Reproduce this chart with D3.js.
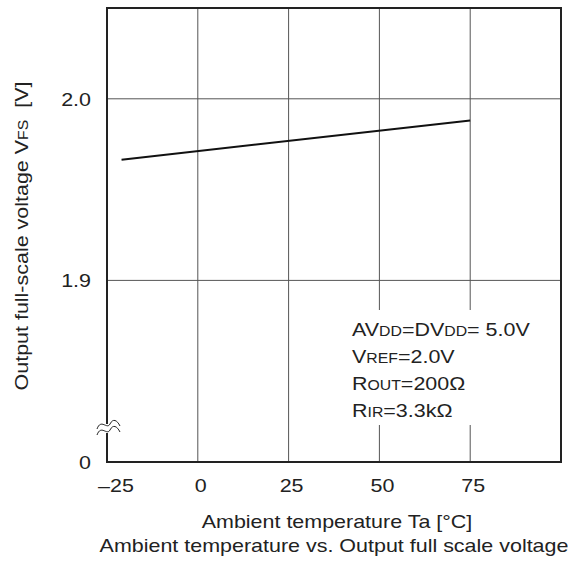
<!DOCTYPE html>
<html><head><meta charset="utf-8">
<script src="https://cdn.jsdelivr.net/npm/d3@7"></script>
<style>body{margin:0;background:#fff}text{font-family:"Liberation Sans",Arial,sans-serif;fill:#222}</style>
</head><body><svg id="c" width="568" height="569"></svg>
<script>
const xTicks = [-25, 0, 25, 50, 75];
const xTickLabels = ["–25", "0", "25", "50", "75"];
const yTicks = [1.8, 1.9, 2.0];
const yTickLabels = ["0", "1.9", "2.0"];
const temps = [-21, 75];
const volts = [1.9665, 1.988];

const svg = d3.select("#c");
const L = 107, R = 561, T = 8, B = 462;
const FS = 19, SX = 1.13;
const x = d3.scaleLinear().domain([-25, 100]).range([L, R]);
const y = d3.scaleLinear().domain([1.8, 2.05]).range([B, T]);

// grid
svg.append("g").selectAll("line").data(xTicks.slice(1)).join("line")
  .attr("x1", d => x(d)).attr("x2", d => x(d)).attr("y1", T).attr("y2", B)
  .attr("stroke", "#555").attr("stroke-width", 1);
svg.append("g").selectAll("line").data(yTicks.slice(1)).join("line")
  .attr("x1", L).attr("x2", R).attr("y1", d => y(d)).attr("y2", d => y(d))
  .attr("stroke", "#555").attr("stroke-width", 1);

// annotation background
const ann = svg.append("g");
ann.append("rect").attr("x", 345).attr("y", 310).attr("width", 200).attr("height", 115).attr("fill", "#fff");

// border
svg.append("rect").attr("x", L).attr("y", T).attr("width", R - L).attr("height", B - T)
  .attr("fill", "none").attr("stroke", "#222").attr("stroke-width", 2);

// break symbol
const br = svg.append("g").attr("fill", "none").attr("stroke", "#222").attr("stroke-width", 1);
br.append("rect").attr("x", L - 4).attr("y", 424).attr("width", 8).attr("height", 9).attr("fill", "#fff").attr("stroke", "none");
br.append("path").attr("d", "M97,429 C101,418 107,430 110,424 S117,420 120,426");
br.append("path").attr("d", "M97,435 C101,424 107,436 110,430 S117,426 120,432");

// data line
const line = d3.line().x(d => x(d[0])).y(d => y(d[1]));
svg.append("path").datum(temps.map((t, i) => [t, volts[i]]))
  .attr("d", line).attr("fill", "none").attr("stroke", "#111").attr("stroke-width", 2);

function txt(px, py, anchor, rot) {
  return svg.append("text")
    .attr("transform", `translate(${px},${py})${rot ? " rotate(" + rot + ")" : ""} scale(${SX},1)`)
    .attr("text-anchor", anchor).attr("font-size", FS);
}

// tick labels
xTicks.forEach((d, i) => {
  txt(x(d) + (i === 0 ? 9 : 3), 492, "middle").text(xTickLabels[i]);
});
yTicks.forEach((d, i) => {
  txt(91, y(d) + 7, "end").text(yTickLabels[i]);
});

// axis titles
txt(337, 528, "middle").text("Ambient temperature Ta [°C]");
txt(334, 552, "middle").text("Ambient temperature vs. Output full scale voltage");

const yt = txt(28, 236, "middle", -90);
yt.append("tspan").text("Output full-scale voltage V");
yt.append("tspan").attr("font-size", 14).text("FS");
yt.append("tspan").attr("xml:space", "preserve").text("  [V]");

// annotation text
const annLines = [
  [["AV", FS], ["DD", 14], ["=DV", FS], ["DD", 14], ["= 5.0V", FS]],
  [["V", FS], ["REF", 14], ["=2.0V", FS]],
  [["R", FS], ["OUT", 14], ["=200Ω", FS]],
  [["R", FS], ["IR", 14], ["=3.3kΩ", FS]]
];
const annY = [336, 363, 390, 417];
annLines.forEach((parts, i) => {
  const t = txt(352, annY[i], "start");
  parts.forEach(p => t.append("tspan").attr("font-size", p[1]).text(p[0]));
});
</script></body></html>
